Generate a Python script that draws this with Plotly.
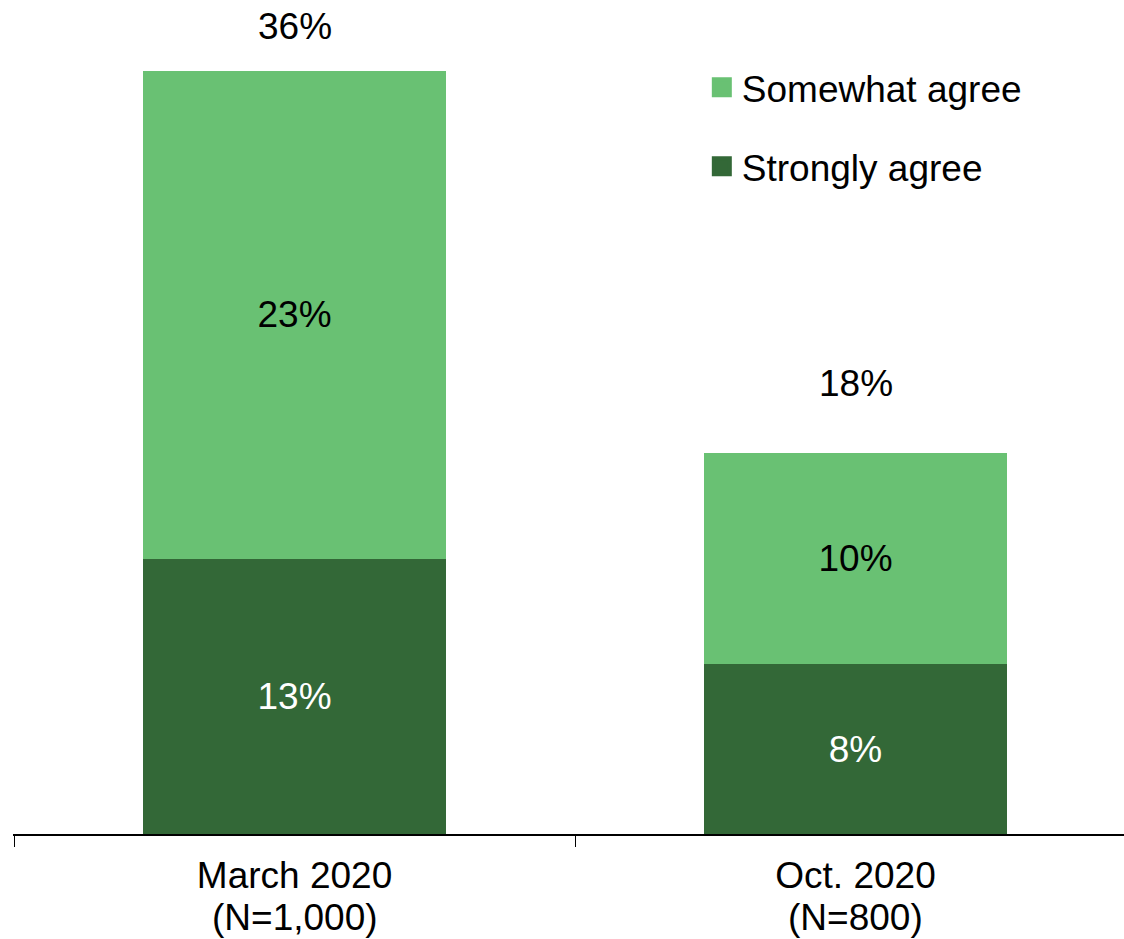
import plotly.graph_objects as go

categories = ["March 2020", "Oct. 2020"]
sample_sizes = ["(N=1,000)", "(N=800)"]
strongly_agree = [13, 8]
somewhat_agree = [23, 10]
totals = [36, 18]

dark_green = "#336837"
light_green = "#69C173"
FONT = "Liberation Sans, Arial, sans-serif"
FS = 37

fig = go.Figure()
fig.add_trace(go.Bar(
    x=categories, y=strongly_agree, name="Strongly agree",
    marker=dict(color=dark_green, line=dict(width=0)),
    text=[f"{v}%" for v in strongly_agree], textposition="inside",
    insidetextanchor="middle", textangle=0, constraintext="none",
    textfont=dict(family=FONT, size=FS, color="white"),
    showlegend=False, width=0.54, hoverinfo="skip",
))
fig.add_trace(go.Bar(
    x=categories, y=somewhat_agree, name="Somewhat agree",
    marker=dict(color=light_green, line=dict(width=0)),
    text=[f"{v}%" for v in somewhat_agree], textposition="inside",
    insidetextanchor="middle", textangle=0, constraintext="none",
    textfont=dict(family=FONT, size=FS, color="black"),
    showlegend=False, width=0.54, hoverinfo="skip",
))

# legend proxies (square swatches)
fig.add_trace(go.Scatter(x=[None], y=[None], mode="markers", name="Somewhat agree",
                         marker=dict(symbol="square", size=16, color=light_green,
                                     line=dict(width=4, color=light_green)),
                         legendgroup="a", legendrank=1))
fig.add_trace(go.Scatter(x=[None], y=[None], mode="markers", name="Strongly agree",
                         marker=dict(symbol="square", size=16, color=dark_green,
                                     line=dict(width=4, color=dark_green)),
                         legendgroup="b", legendrank=2))

total_shift = [45, 69]
for cat, tot, sh in zip(categories, totals, total_shift):
    fig.add_annotation(x=cat, y=tot, xref="x", yref="y", text=f"{tot}%",
                       showarrow=False, yanchor="middle", yshift=sh,
                       font=dict(family=FONT, size=FS, color="black"))

for cat, n in zip(categories, sample_sizes):
    fig.add_annotation(x=cat, y=0, xref="x", yref="paper", text=n,
                       showarrow=False, yanchor="middle", yshift=-83,
                       font=dict(family=FONT, size=FS, color="black"))

fig.update_layout(
    width=1124, height=939,
    margin=dict(l=13, r=0, t=0, b=105),
    barmode="stack",
    plot_bgcolor="white", paper_bgcolor="white",
    font=dict(family=FONT, size=FS, color="black"),
    legend=dict(x=0.62, y=0.932, xanchor="left", yanchor="top",
                font=dict(family=FONT, size=FS, color="black"),
                tracegroupgap=28, traceorder="grouped",
                bgcolor="rgba(0,0,0,0)", itemclick=False),
    xaxis=dict(type="category", range=[-0.5018, 1.4786],
               showline=True, linecolor="black", linewidth=2,
               ticks="outside", ticklen=11, tickwidth=1, tickcolor="black",
               tickson="boundaries", showgrid=False, zeroline=False,
               ticklabelstandoff=8,
               tickfont=dict(family=FONT, size=FS, color="black")),
    yaxis=dict(range=[0, 39.36], visible=False, showgrid=False, zeroline=False),
)

fig.write_html("out.html", config={"displayModeBar": False},
               post_script="document.body.style.margin='0';document.body.style.overflow='hidden';")
